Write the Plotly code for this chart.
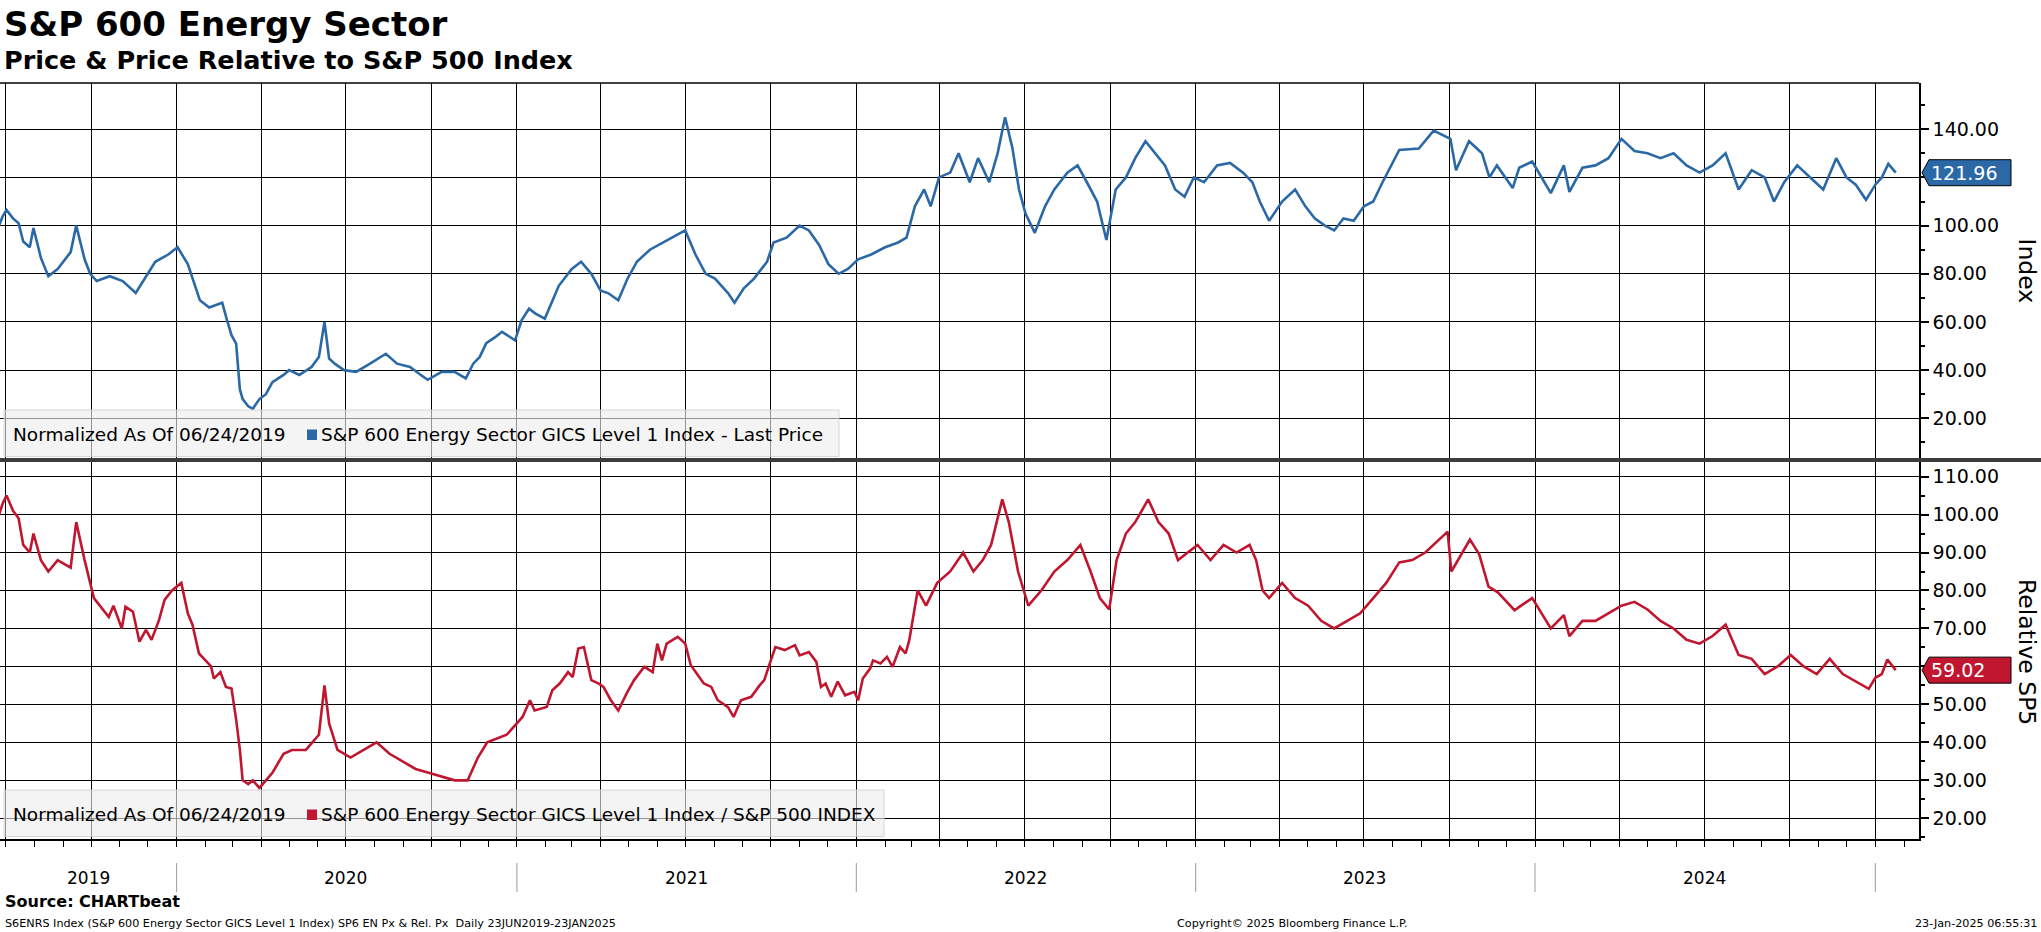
import plotly.graph_objects as go

# ---------------- data ----------------
price_dates = [
    "2019-06-24", "2019-06-28", "2019-07-02", "2019-07-09", "2019-07-15", "2019-07-20", "2019-07-27",
    "2019-07-31", "2019-08-08", "2019-08-16", "2019-08-26", "2019-09-09", "2019-09-15", "2019-09-24",
    "2019-09-30", "2019-10-07", "2019-10-21", "2019-11-04", "2019-11-18", "2019-11-28", "2019-12-09",
    "2019-12-23", "2020-01-02", "2020-01-13", "2020-01-20", "2020-01-26", "2020-02-05", "2020-02-19",
    "2020-02-24", "2020-02-29", "2020-03-05", "2020-03-07", "2020-03-09", "2020-03-12", "2020-03-18",
    "2020-03-23", "2020-03-30", "2020-04-06", "2020-04-13", "2020-04-25", "2020-05-01", "2020-05-12",
    "2020-05-25", "2020-06-02", "2020-06-08", "2020-06-13", "2020-06-19", "2020-06-29", "2020-07-12",
    "2020-07-27", "2020-08-13", "2020-08-25", "2020-09-08", "2020-09-20", "2020-09-27", "2020-10-12",
    "2020-10-26", "2020-11-07", "2020-11-15", "2020-11-22", "2020-11-29", "2020-12-09", "2020-12-16",
    "2020-12-30", "2021-01-06", "2021-01-14", "2021-01-21", "2021-01-31", "2021-02-07", "2021-02-15",
    "2021-03-01", "2021-03-11", "2021-03-22", "2021-04-01", "2021-04-09", "2021-04-20", "2021-04-30",
    "2021-05-10", "2021-05-24", "2021-06-07", "2021-06-21", "2021-07-01", "2021-07-12", "2021-07-23",
    "2021-08-02", "2021-08-16", "2021-08-23", "2021-09-02", "2021-09-13", "2021-09-27", "2021-10-04",
    "2021-10-18", "2021-11-01", "2021-11-11", "2021-11-22", "2021-12-02", "2021-12-13", "2021-12-23",
    "2022-01-03", "2022-01-17", "2022-02-01", "2022-02-15", "2022-02-24", "2022-03-05", "2022-03-15",
    "2022-03-22", "2022-03-31", "2022-04-12", "2022-04-21", "2022-05-03", "2022-05-12", "2022-05-24",
    "2022-06-02", "2022-06-10", "2022-06-18", "2022-06-25", "2022-07-02", "2022-07-12", "2022-07-23",
    "2022-08-02", "2022-08-16", "2022-08-27", "2022-09-06", "2022-09-17", "2022-09-27", "2022-10-07",
    "2022-10-18", "2022-10-28", "2022-11-08", "2022-11-19", "2022-11-29", "2022-12-10", "2022-12-20",
    "2022-12-30", "2023-01-10", "2023-01-24", "2023-02-07", "2023-02-21", "2023-03-03", "2023-03-11",
    "2023-03-21", "2023-04-04", "2023-04-18", "2023-04-29", "2023-05-09", "2023-05-20", "2023-05-30",
    "2023-06-09", "2023-06-20", "2023-07-01", "2023-07-11", "2023-07-21", "2023-08-08", "2023-08-29",
    "2023-09-14", "2023-10-02", "2023-10-08", "2023-10-22", "2023-11-05", "2023-11-13", "2023-11-21",
    "2023-12-08", "2023-12-15", "2023-12-29", "2024-01-18", "2024-02-01", "2024-02-07", "2024-02-21",
    "2024-03-06", "2024-03-20", "2024-04-03", "2024-04-17", "2024-05-01", "2024-05-15", "2024-05-29",
    "2024-06-12", "2024-06-26", "2024-07-10", "2024-07-24", "2024-08-07", "2024-08-21", "2024-09-04",
    "2024-09-14", "2024-09-25", "2024-10-09", "2024-10-23", "2024-11-06", "2024-11-20", "2024-12-01",
    "2024-12-11", "2024-12-22", "2025-01-01", "2025-01-08", "2025-01-15", "2025-01-23",
]
price_values = [
    100, 104, 106.5, 103, 101, 93.4, 91,
    99, 86.6, 79, 82, 89, 100, 86,
    80, 77, 79, 77, 72, 78, 85,
    88, 91, 84, 76, 69, 66, 68,
    61, 54.5, 51, 40, 32, 28, 25,
    24, 28, 30, 35, 38, 40, 38,
    41.3, 45.5, 60, 44.8, 42.7, 40, 39.3,
    42.7, 46.8, 42.7, 41.3, 37.9, 36, 39.3,
    39.3, 36.6, 42.7, 45.5, 51.2, 53.8, 55.9,
    52.4, 60.7, 65.5, 63.5, 61.4, 67.6, 75,
    82, 85, 80, 73, 72, 69, 78,
    85, 90, 93, 96, 98, 88, 80,
    78, 72, 68, 74, 78, 85, 93,
    95, 100, 98, 92, 84, 80, 82,
    86, 88, 91, 93, 95, 108, 115,
    108, 120, 122, 130, 118, 128, 118,
    130, 145, 132, 115, 105, 97, 108,
    115, 122, 125, 118, 110, 94, 115,
    120, 128, 135, 130, 125, 115, 112,
    120, 118, 125, 126, 122, 118, 110,
    102, 110, 115, 108, 103, 100, 98,
    103, 102, 108, 110, 118, 131.4, 132,
    139.4, 136, 123, 135, 130, 120, 125,
    115.6, 124, 126.6, 113.5, 125, 114, 124,
    125, 128, 136, 131, 130, 128, 130,
    125, 122, 125, 130, 115, 123, 120,
    110, 118, 125, 120, 115, 128, 120,
    117, 110.7, 117, 120, 125.6, 121.96,
]

rel_dates = [
    "2019-06-24", "2019-06-28", "2019-07-02", "2019-07-09", "2019-07-15", "2019-07-20", "2019-07-27",
    "2019-07-31", "2019-08-08", "2019-08-16", "2019-08-26", "2019-09-09", "2019-09-15", "2019-09-24",
    "2019-10-04", "2019-10-11", "2019-10-20", "2019-10-25", "2019-11-03", "2019-11-07", "2019-11-15",
    "2019-11-22", "2019-11-29", "2019-12-05", "2019-12-13", "2019-12-19", "2019-12-27", "2020-01-06",
    "2020-01-13", "2020-01-18", "2020-01-25", "2020-02-01", "2020-02-07", "2020-02-10", "2020-02-17",
    "2020-02-23", "2020-02-29", "2020-03-05", "2020-03-09", "2020-03-12", "2020-03-18", "2020-03-23",
    "2020-03-30", "2020-04-13", "2020-04-25", "2020-05-04", "2020-05-19", "2020-06-02", "2020-06-08",
    "2020-06-13", "2020-06-22", "2020-07-06", "2020-07-20", "2020-08-03", "2020-08-17", "2020-08-31",
    "2020-09-14", "2020-09-28", "2020-10-12", "2020-10-26", "2020-11-09", "2020-11-20", "2020-11-30",
    "2020-12-21", "2021-01-07", "2021-01-15", "2021-01-20", "2021-02-02", "2021-02-08", "2021-02-16",
    "2021-02-25", "2021-03-02", "2021-03-08", "2021-03-14", "2021-03-22", "2021-03-30", "2021-04-04",
    "2021-04-12", "2021-04-20", "2021-04-29", "2021-05-07", "2021-05-18", "2021-05-27", "2021-06-01",
    "2021-06-06", "2021-06-11", "2021-06-23", "2021-07-01", "2021-07-07", "2021-07-21", "2021-07-29",
    "2021-08-05", "2021-08-16", "2021-08-22", "2021-08-30", "2021-09-10", "2021-09-19", "2021-09-24",
    "2021-09-30", "2021-10-06", "2021-10-16", "2021-10-27", "2021-11-01", "2021-11-11", "2021-11-19",
    "2021-11-24", "2021-11-29", "2021-12-05", "2021-12-12", "2021-12-20", "2021-12-30", "2022-01-03",
    "2022-01-08", "2022-01-16", "2022-01-19", "2022-01-27", "2022-02-03", "2022-02-09", "2022-02-17",
    "2022-02-23", "2022-02-27", "2022-03-08", "2022-03-17", "2022-03-29", "2022-04-12", "2022-04-26",
    "2022-05-07", "2022-05-17", "2022-05-26", "2022-06-07", "2022-06-14", "2022-06-24", "2022-07-05",
    "2022-07-19", "2022-08-02", "2022-08-16", "2022-08-30", "2022-09-10", "2022-09-20", "2022-09-30",
    "2022-10-08", "2022-10-18", "2022-10-28", "2022-11-11", "2022-11-22", "2022-12-03", "2022-12-13",
    "2022-12-23", "2023-01-03", "2023-01-17", "2023-01-31", "2023-02-14", "2023-02-28", "2023-03-07",
    "2023-03-14", "2023-03-21", "2023-04-04", "2023-04-18", "2023-05-02", "2023-05-16", "2023-05-30",
    "2023-06-13", "2023-06-27", "2023-07-11", "2023-07-25", "2023-08-08", "2023-08-22", "2023-09-05",
    "2023-09-29", "2023-10-03", "2023-10-23", "2023-11-02", "2023-11-12", "2023-11-22", "2023-12-10",
    "2023-12-17", "2023-12-29", "2024-01-18", "2024-02-01", "2024-02-07", "2024-02-21", "2024-03-06",
    "2024-03-20", "2024-04-03", "2024-04-17", "2024-05-01", "2024-05-15", "2024-05-29", "2024-06-12",
    "2024-06-26", "2024-07-10", "2024-07-24", "2024-08-07", "2024-08-21", "2024-09-04", "2024-09-18",
    "2024-10-02", "2024-10-16", "2024-10-30", "2024-11-13", "2024-11-27", "2024-12-11", "2024-12-25",
    "2025-01-01", "2025-01-08", "2025-01-14", "2025-01-23",
]
rel_values = [
    100, 103, 105, 101, 99, 92, 90,
    95, 88, 85, 88, 86, 98, 88,
    78, 75.7, 73, 76, 70, 75.7, 74.4,
    66.5, 69.6, 67, 72.2, 77.5, 80, 82,
    74, 71, 63.4, 61.6, 60, 56.8, 58.5,
    54.6, 54.2, 46, 38, 30, 29, 30,
    28, 32, 37, 38, 38, 42, 55,
    45, 38, 36, 38, 40, 37, 35,
    33, 32, 31, 30, 30, 36, 40,
    42, 46.7, 51.1, 48.4, 49.3, 53.7, 55.5,
    58.5, 57.2, 64.7, 65.1, 56.4, 55.5, 54.6,
    51.1, 48.4, 52.9, 56.4, 59.9, 58.5, 66,
    61.6, 66, 67.8, 66, 60.3, 55.5, 54.6,
    51.1, 49.3, 46.7, 51.1, 52, 55, 56.4,
    60.8, 65.1, 64.3, 65.6, 62.9, 63.8, 61.2,
    54.6, 55.5, 52, 56, 52.4, 53.3, 51.1,
    56.8, 59.5, 61.6, 60.8, 62.5, 59.9, 65.1,
    63.4, 66.9, 80, 76, 82, 85, 90,
    85, 88, 92, 104, 98, 85, 76,
    80, 85, 88, 92, 85, 78, 75,
    88, 95, 98, 104, 98, 95, 88,
    90, 92, 88, 92, 90, 92, 88,
    80, 78, 82, 78, 76, 72, 70,
    72, 74, 78, 82, 87.4, 88, 90,
    95.5, 85, 93.4, 89.5, 81, 79.5, 74.8,
    76, 78, 70, 73.5, 68, 72, 72,
    74, 76, 77, 75, 72, 70, 67,
    66, 68, 71, 63, 62, 58, 60,
    63, 60, 58, 62, 58, 56, 54.1,
    57, 58, 61.8, 59.02,
]

year_labels = ["2019", "2020", "2021", "2022", "2023", "2024"]
year_label_dates = ["2019-09-28", "2020-07-01", "2021-07-02", "2022-07-02", "2023-07-02", "2024-07-01"]
year_starts = ["2020-01-01", "2021-01-01", "2022-01-01", "2023-01-01", "2024-01-01", "2025-01-01"]

price_ticks = [20, 40, 60, 80, 100, 120, 140]
rel_ticks = [20, 30, 40, 50, 60, 70, 80, 90, 100, 110]

# ---------------- styling ----------------
BLUE = "#2b69a6"
RED = "#c0162f"
FONT = "DejaVu Sans"
W, H = 2041, 932
L, R, T, B = 0, 122, 83, 93
PW = W - L - R
PH = H - T - B

PRICE_RANGE = [2.7, 159.2]
REL_RANGE = [14.55, 114.1]


def py(px):
    """pixel row (from top) -> paper y"""
    return (H - B - px) / PH


def pxx(px):
    return (px - L) / PW


def tick_texts(ticks, last, rng, panel_px):
    # the last-value tag hides the tick label it sits on
    per_unit = panel_px / (rng[1] - rng[0])
    return ["" if abs(v - last) * per_unit < 20 else f"{v:.2f}" for v in ticks]


fig = go.Figure()
fig.add_trace(go.Scatter(x=price_dates, y=price_values, mode="lines",
                         line=dict(color=BLUE, width=2.6), xaxis="x", yaxis="y",
                         hoverinfo="skip", showlegend=False))
fig.add_trace(go.Scatter(x=rel_dates, y=rel_values, mode="lines",
                         line=dict(color=RED, width=2.6), xaxis="x2", yaxis="y2",
                         hoverinfo="skip", showlegend=False))

xrange = ["2019-06-25", "2025-02-17"]
common_x = dict(range=xrange, type="date", tickmode="linear", tick0="2019-07-01", dtick="M3",
                showgrid=True, gridcolor="black", gridwidth=1, zeroline=False)
ytick_font = dict(family=FONT, size=19, color="black")
common_y = dict(side="right", showgrid=True, gridcolor="black", gridwidth=1.2, zeroline=False,
                showline=True, linecolor="black", linewidth=1.5, ticks="outside", ticklen=8,
                tickwidth=1.5, tickcolor="black", tickfont=ytick_font, tickmode="array")

fig.update_layout(
    width=W, height=H, autosize=False,
    margin=dict(l=L, r=R, t=T, b=B, pad=0),
    paper_bgcolor="white", plot_bgcolor="white",
    showlegend=False,
    xaxis=dict(domain=[0, 1], anchor="y", showticklabels=False, ticks="", **common_x),
    xaxis2=dict(domain=[0, 1], anchor="y2", matches="x", showticklabels=False,
                ticks="outside", ticklen=6, tickcolor="black", tickwidth=1,
                showline=True, linecolor="black", linewidth=1.5,
                minor=dict(ticks="outside", ticklen=6, tickcolor="black", dtick="M1",
                           tick0="2019-07-01", showgrid=False),
                **common_x),
    yaxis=dict(domain=[py(460), 1], anchor="x", range=PRICE_RANGE, tickvals=price_ticks,
               ticktext=tick_texts(price_ticks, price_values[-1], PRICE_RANGE, 460 - T),
               minor=dict(tickmode="array", tickvals=[10, 30, 50, 70, 90, 110, 130, 150],
                          ticks="outside", ticklen=4, tickcolor="black", showgrid=False),
               **common_y),
    yaxis2=dict(domain=[0, py(461)], anchor="x2", range=REL_RANGE, tickvals=rel_ticks,
                ticktext=tick_texts(rel_ticks, rel_values[-1], REL_RANGE, H - B - 461),
                minor=dict(tickmode="array", tickvals=[15, 25, 35, 45, 55, 65, 75, 85, 95, 105],
                           ticks="outside", ticklen=4, tickcolor="black", showgrid=False),
                **common_y),
)

shapes = []
# top border
shapes.append(dict(type="line", xref="paper", yref="paper", x0=0, x1=1, y0=1, y1=1,
                   line=dict(color="black", width=1.5)))
# panel separator
shapes.append(dict(type="line", xref="paper", yref="paper", x0=0, x1=W / PW, y0=py(460), y1=py(460),
                   line=dict(color="#3c3c3c", width=4)))
# legend boxes
shapes.append(dict(type="rect", xref="paper", yref="paper", x0=pxx(4), x1=pxx(839),
                   y0=py(456.5), y1=py(410), fillcolor="rgba(238,238,238,0.62)",
                   line=dict(color="rgba(205,205,205,0.8)", width=1), layer="above"))
shapes.append(dict(type="rect", xref="paper", yref="paper", x0=pxx(4), x1=pxx(884),
                   y0=py(836.5), y1=py(790), fillcolor="rgba(238,238,238,0.62)",
                   line=dict(color="rgba(205,205,205,0.8)", width=1), layer="above"))
# legend swatches
shapes.append(dict(type="rect", xref="paper", yref="paper", x0=pxx(307), x1=pxx(317),
                   y0=py(440), y1=py(429.5), fillcolor=BLUE, line=dict(width=0), layer="above"))
shapes.append(dict(type="rect", xref="paper", yref="paper", x0=pxx(307), x1=pxx(317),
                   y0=py(820), y1=py(809.5), fillcolor=RED, line=dict(width=0), layer="above"))
# last value tags
for yr, val, col in (("y", price_values[-1], BLUE), ("y2", rel_values[-1], RED)):
    shapes.append(dict(type="path", xref="paper", yref=yr, xsizemode="pixel", ysizemode="pixel",
                       xanchor=1, yanchor=val,
                       path="M 3 0 L 10 13 L 92 13 L 92 -13 L 10 -13 Z",
                       fillcolor=col, line=dict(color="black", width=1), layer="above"))
# year separators under the axis
for d in year_starts:
    shapes.append(dict(type="line", xref="x2", yref="paper", x0=d, x1=d, y0=py(863), y1=py(892),
                       line=dict(color="#9a9a9a", width=1)))
fig.update_layout(shapes=shapes)

ann = []
ann.append(dict(text="<b>S&P 600 Energy Sector</b>", xref="paper", yref="paper", x=pxx(2), y=py(24),
                xanchor="left", yanchor="middle", showarrow=False,
                font=dict(family=FONT, size=34, color="black")))
ann.append(dict(text="<b>Price & Price Relative to S&P 500 Index</b>", xref="paper", yref="paper",
                x=pxx(2), y=py(60), xanchor="left", yanchor="middle", showarrow=False,
                font=dict(family=FONT, size=25.5, color="black")))
leg_font = dict(family=FONT, size=18.5, color="black")
for ycen, label in ((434.5, "S&P 600 Energy Sector GICS Level 1 Index - Last Price"),
                    (814.5, "S&P 600 Energy Sector GICS Level 1 Index / S&P 500 INDEX")):
    ann.append(dict(text="Normalized As Of 06/24/2019", xref="paper", yref="paper", x=pxx(11),
                    y=py(ycen), xanchor="left", yanchor="middle", showarrow=False, font=leg_font))
    ann.append(dict(text=label, xref="paper", yref="paper", x=pxx(319), y=py(ycen),
                    xanchor="left", yanchor="middle", showarrow=False, font=leg_font))
# last-value texts
for yr, val in (("y", price_values[-1]), ("y2", rel_values[-1])):
    ann.append(dict(text=f"{val:.2f}", xref="paper", yref=yr, x=1, xshift=10, y=val,
                    xanchor="left", yanchor="middle", showarrow=False,
                    font=dict(family=FONT, size=19, color="white")))
# axis titles (rotated, reading downward)
ann.append(dict(text="Index", xref="paper", yref="paper", x=pxx(2027), y=py(271.5),
                xanchor="center", yanchor="middle", textangle=90, showarrow=False,
                font=dict(family=FONT, size=23.5, color="black")))
ann.append(dict(text="Relative SP5", xref="paper", yref="paper", x=pxx(2027), y=py(652),
                xanchor="center", yanchor="middle", textangle=90, showarrow=False,
                font=dict(family=FONT, size=23.5, color="black")))
# year labels
for lab, d in zip(year_labels, year_label_dates):
    ann.append(dict(text=lab, xref="x2", yref="paper", x=d, y=py(878), xanchor="center",
                    yanchor="middle", showarrow=False, font=dict(family=FONT, size=17, color="black")))
# footer
ann.append(dict(text="<b>Source: CHARTbeat</b>", xref="paper", yref="paper", x=pxx(3), y=py(901),
                xanchor="left", yanchor="middle", showarrow=False,
                font=dict(family=FONT, size=16, color="black")))
small = dict(family=FONT, size=11.2, color="black")
ann.append(dict(text="S6ENRS Index (S&P 600 Energy Sector GICS Level 1 Index) SP6 EN Px & Rel. Px\u00a0\u00a0Daily 23JUN2019-23JAN2025",
                xref="paper", yref="paper", x=pxx(3), y=py(923), xanchor="left", yanchor="middle",
                showarrow=False, font=small))
ann.append(dict(text="Copyright\u00a9 2025 Bloomberg Finance L.P.", xref="paper", yref="paper",
                x=pxx(1292), y=py(923), xanchor="center", yanchor="middle", showarrow=False, font=small))
ann.append(dict(text="23-Jan-2025 06:55:31", xref="paper", yref="paper", x=pxx(2039), y=py(923),
                xanchor="right", yanchor="middle", showarrow=False, font=small))
fig.update_layout(annotations=ann)

fig.write_html("out.html", config={"displayModeBar": False},
               post_script="document.body.style.margin='0';document.body.style.overflow='hidden';")
